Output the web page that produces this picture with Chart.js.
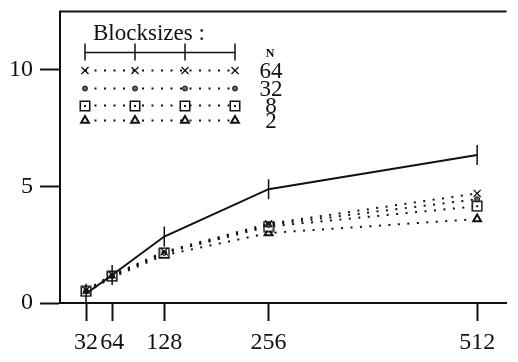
<!DOCTYPE html>
<html>
<head>
<meta charset="utf-8">
<script src="https://cdn.jsdelivr.net/npm/chart.js"></script>
<style>
  html, body { margin: 0; padding: 0; background: #fff; }
  #wrap { width: 518px; height: 362px; position: relative; }
</style>
</head>
<body>
<div id="wrap"><canvas id="chart"></canvas></div>
<script>
// Problem sizes on the x axis
const xValues = [32, 64, 128, 256, 512];
// Reference curve (solid line with tick marks)
const solidValues = [0.4, 1.2, 2.85, 4.88, 6.35];
// Dotted curves, one per N
const n64Values = [0.55, 1.2, 2.2, 3.4, 4.7];
const n32Values = [0.5, 1.15, 2.15, 3.35, 4.45];
const n8Values = [0.5, 1.15, 2.15, 3.28, 4.15];
const n2Values = [0.45, 1.1, 2.05, 3.0, 3.6];
const yTickValues = [0, 5, 10];
const legendTitle = 'Blocksizes :';
const legendHeader = 'N';
const legendLabels = ['64', '32', '8', '2'];

const SERIF = '"Liberation Serif", "DejaVu Serif", serif';
const INK = '#111';

// Square marker with a dot in the middle
function makeDotSquare() {
  const c = document.createElement('canvas');
  c.width = 12; c.height = 12;
  const g = c.getContext('2d');
  g.strokeStyle = INK; g.lineWidth = 1.5;
  g.fillStyle = '#fff';
  g.fillRect(1, 1, 10, 10);
  g.strokeRect(1.25, 1.25, 9.5, 9.5);
  g.fillStyle = INK;
  g.fillRect(5, 5, 2, 2);
  return c;
}
const dotSquare = makeDotSquare();

function pts(vals) { return xValues.map((x, i) => ({ x: x, y: vals[i] })); }

const dotted = [2, 7.5];

const datasets = [
  {
    label: 'reference', data: pts(solidValues),
    borderColor: INK, borderWidth: 2, showLine: true,
    pointStyle: 'line', pointRotation: 90, pointRadius: 10,
    pointBorderWidth: 1.5, pointBorderColor: INK
  },
  {
    label: legendLabels[0], data: pts(n64Values),
    borderColor: INK, borderWidth: 2, borderDash: dotted, showLine: true,
    pointStyle: 'crossRot', pointRadius: 5, pointBorderWidth: 1.3,
    pointBorderColor: INK
  },
  {
    label: legendLabels[1], data: pts(n32Values),
    borderColor: INK, borderWidth: 2, borderDash: dotted, showLine: true,
    pointStyle: 'circle', pointRadius: 2.5, pointBorderWidth: 1,
    pointBorderColor: INK, pointBackgroundColor: '#666'
  },
  {
    label: legendLabels[2], data: pts(n8Values),
    borderColor: INK, borderWidth: 2, borderDash: dotted, showLine: true,
    pointStyle: dotSquare, pointRadius: 6
  },
  {
    label: legendLabels[3], data: pts(n2Values),
    borderColor: INK, borderWidth: 2, borderDash: dotted, showLine: true,
    pointStyle: 'triangle', pointRadius: 4.5, pointBorderWidth: 2,
    pointBorderColor: INK, pointBackgroundColor: '#fff'
  }
];

// Draws one legend marker in the same style as a dataset's points
function drawMarker(ctx, ds, x, y) {
  const style = ds.pointStyle;
  if (style instanceof HTMLCanvasElement) {
    ctx.drawImage(style, Math.round(x - style.width / 2), Math.round(y - style.height / 2));
    return;
  }
  ctx.save();
  ctx.strokeStyle = ds.pointBorderColor || INK;
  ctx.fillStyle = ds.pointBackgroundColor || INK;
  ctx.lineWidth = ds.pointBorderWidth || 1;
  const r = ds.pointRadius;
  ctx.beginPath();
  if (style === 'crossRot') {
    const d = r * Math.SQRT1_2;
    ctx.moveTo(x - d, y - d); ctx.lineTo(x + d, y + d);
    ctx.moveTo(x - d, y + d); ctx.lineTo(x + d, y - d);
    ctx.stroke();
  } else if (style === 'circle') {
    ctx.arc(x, y, r, 0, Math.PI * 2);
    ctx.fill(); ctx.stroke();
  } else if (style === 'triangle') {
    const h = r * 1.5;
    ctx.moveTo(x, y - h * 0.66);
    ctx.lineTo(x + r * 0.87, y + h * 0.34);
    ctx.lineTo(x - r * 0.87, y + h * 0.34);
    ctx.closePath();
    ctx.fill(); ctx.stroke();
  }
  ctx.restore();
}

const framePlugin = {
  id: 'frame',
  beforeDatasetsDraw(chart) {
    const { ctx, chartArea } = chart;
    ctx.save();
    ctx.strokeStyle = INK;
    ctx.lineWidth = 2;
    ctx.beginPath();
    ctx.moveTo(chartArea.left - 1, chartArea.top);
    ctx.lineTo(chartArea.right, chartArea.top);
    ctx.stroke();
    ctx.restore();
  }
};

const legendPlugin = {
  id: 'blockLegend',
  afterDatasetsDraw(chart) {
    const { ctx, chartArea } = chart;
    const L = chartArea.left, T = chartArea.top;
    const cols = [25, 75, 125, 175].map(v => L + v);
    const labelX = L + 211;
    ctx.save();
    ctx.fillStyle = INK;
    ctx.strokeStyle = INK;

    // title
    ctx.font = '23px ' + SERIF;
    ctx.textAlign = 'left';
    ctx.textBaseline = 'alphabetic';
    ctx.fillText(legendTitle, L + 33, T + 28);

    // solid key with ticks
    const ySolid = T + 41;
    ctx.lineWidth = 1.5;
    ctx.beginPath();
    ctx.moveTo(cols[0], ySolid); ctx.lineTo(cols[3], ySolid);
    cols.forEach(cx => { ctx.moveTo(cx, ySolid - 9); ctx.lineTo(cx, ySolid + 8); });
    ctx.stroke();

    ctx.font = 'bold 12px ' + SERIF;
    ctx.textAlign = 'center';
    ctx.textBaseline = 'middle';
    ctx.fillText(legendHeader, labelX - 1, ySolid + 1);

    // dotted rows
    const rowY = [59, 77, 94, 109].map(v => T + v);
    ctx.font = '23px ' + SERIF;
    for (let i = 0; i < 4; i++) {
      const ds = datasets[i + 1];
      const y = rowY[i];
      ctx.save();
      ctx.lineWidth = 2;
      ctx.setLineDash(dotted);
      ctx.beginPath();
      ctx.moveTo(cols[0], y); ctx.lineTo(cols[3], y);
      ctx.stroke();
      ctx.restore();
      cols.forEach(cx => drawMarker(ctx, ds, cx, y));
      ctx.fillStyle = INK;
      ctx.textAlign = 'center';
      ctx.textBaseline = 'middle';
      ctx.fillText(legendLabels[i], labelX, y + 1);
    }
    ctx.restore();
  }
};

new Chart(document.getElementById('chart'), {
  type: 'scatter',
  data: { datasets: datasets },
  options: {
    responsive: true,
    maintainAspectRatio: false,
    animation: false,
    devicePixelRatio: 1,
    layout: { padding: { top: 9, right: 0, left: 0, bottom: 0 } },
    plugins: { legend: { display: false }, tooltip: { enabled: false } },
    scales: {
      x: {
        type: 'linear', min: 0, max: 548,
        afterBuildTicks: s => { s.ticks = xValues.map(v => ({ value: v })); },
        afterFit: s => { s.height = 59; s.paddingLeft = 0; s.paddingRight = 0; },
        grid: { drawOnChartArea: false, drawTicks: true, tickLength: 18, tickColor: INK, tickWidth: 2 },
        border: { display: true, color: INK, width: 2 },
        ticks: {
          color: INK, padding: 7, maxRotation: 0, autoSkip: false,
          font: { family: SERIF, size: 24 },
          callback: v => String(v)
        }
      },
      y: {
        type: 'linear', min: 0, max: 12.5,
        afterBuildTicks: s => { s.ticks = yTickValues.map(v => ({ value: v })); },
        afterFit: s => { s.width = 60; s.paddingTop = 0; s.paddingBottom = 0; },
        grid: { drawOnChartArea: false, drawTicks: true, tickLength: 20, tickColor: INK, tickWidth: 2 },
        border: { display: true, color: INK, width: 2 },
        ticks: {
          color: INK, padding: 7,
          font: { family: SERIF, size: 24 },
          callback: v => String(v)
        }
      }
    }
  },
  plugins: [framePlugin, legendPlugin]
});
</script>
</body>
</html>
